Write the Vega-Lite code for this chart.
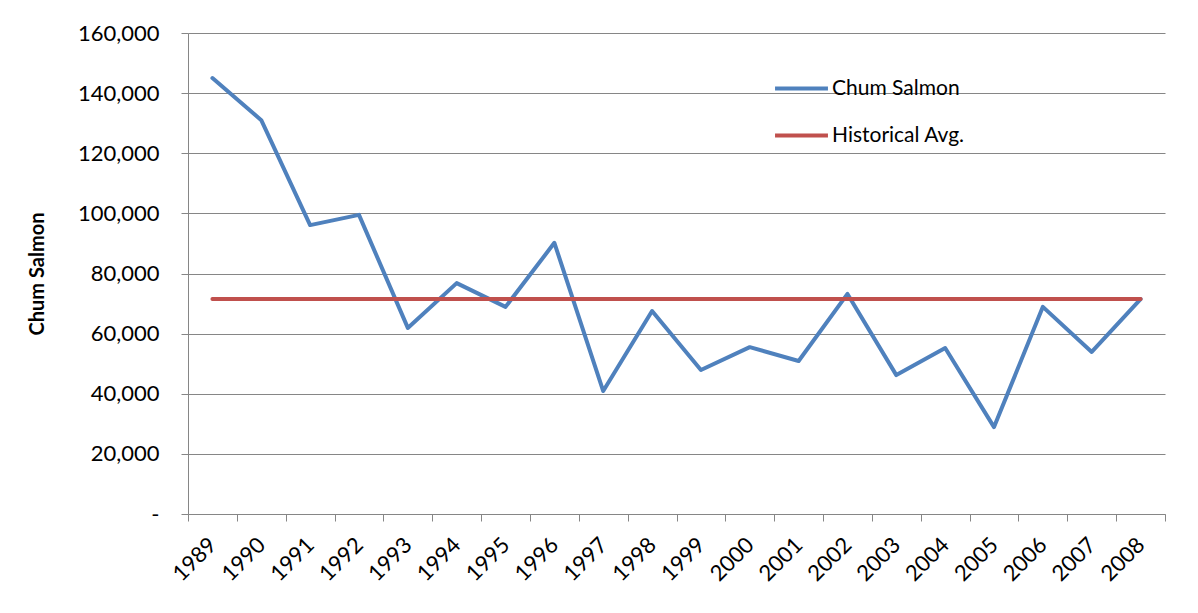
{
  "$schema": "https://vega.github.io/schema/vega-lite/v6.json",
  "width": 977,
  "height": 481,
  "autosize": {"type": "none"},
  "padding": {"left": 188, "top": 33, "right": 33, "bottom": 99},
  "background": "white",
  "data": {
    "values": [
      {"year": "1989", "chum": 145000, "avg": 71500},
      {"year": "1990", "chum": 131000, "avg": 71500},
      {"year": "1991", "chum": 96100, "avg": 71500},
      {"year": "1992", "chum": 99500, "avg": 71500},
      {"year": "1993", "chum": 61900, "avg": 71500},
      {"year": "1994", "chum": 76800, "avg": 71500},
      {"year": "1995", "chum": 68900, "avg": 71500},
      {"year": "1996", "chum": 90200, "avg": 71500},
      {"year": "1997", "chum": 40900, "avg": 71500},
      {"year": "1998", "chum": 67500, "avg": 71500},
      {"year": "1999", "chum": 47900, "avg": 71500},
      {"year": "2000", "chum": 55500, "avg": 71500},
      {"year": "2001", "chum": 50900, "avg": 71500},
      {"year": "2002", "chum": 73200, "avg": 71500},
      {"year": "2003", "chum": 46200, "avg": 71500},
      {"year": "2004", "chum": 55200, "avg": 71500},
      {"year": "2005", "chum": 28900, "avg": 71500},
      {"year": "2006", "chum": 68900, "avg": 71500},
      {"year": "2007", "chum": 53900, "avg": 71500},
      {"year": "2008", "chum": 71500, "avg": 71500}
    ]
  },
  "encoding": {
    "x": {
      "field": "year",
      "type": "ordinal",
      "scale": {"type": "band", "paddingInner": 0, "paddingOuter": 0},
      "axis": {
        "title": null,
        "labelAngle": -45,
        "labelAlign": "right",
        "labelBaseline": "middle",
        "labelPadding": 20,
        "labelFontSize": 22,
        "labelFont": "Lato",
        "labelColor": "#000000",
        "tickBand": "extent",
        "tickSize": 7,
        "tickColor": "#868686",
        "domainColor": "#868686",
        "grid": false
      }
    }
  },
  "layer": [
    {
      "mark": {"type": "line", "strokeWidth": 4, "strokeCap": "round", "strokeJoin": "round"},
      "encoding": {
        "y": {
          "field": "chum",
          "type": "quantitative",
          "scale": {"domain": [0, 160000]},
          "axis": {
            "title": "Chum Salmon",
            "titleFont": "Lato",
            "titleFontSize": 20,
            "titleFontWeight": "bold",
            "titleColor": "#000000",
            "titlePadding": 30,
            "values": [0, 20000, 40000, 60000, 80000, 100000, 120000, 140000, 160000],
            "labelExpr": "datum.value == 0 ? '-' : format(datum.value, ',')",
            "labelFont": "Lato",
            "labelFontSize": 22,
            "labelColor": "#000000",
            "labelPadding": 22,
            "tickSize": 7,
            "tickColor": "#868686",
            "domainColor": "#868686",
            "gridColor": "#868686",
            "gridWidth": 1
          }
        },
        "color": {"datum": "Chum Salmon"}
      }
    },
    {
      "mark": {"type": "line", "strokeWidth": 4, "strokeCap": "round"},
      "encoding": {
        "y": {"field": "avg", "type": "quantitative"},
        "color": {"datum": "Historical Avg."}
      }
    }
  ],
  "resolve": {"scale": {"color": "shared"}},
  "config": {
    "view": {"stroke": null},
    "range": {"category": ["#4F81BD", "#C0504D"]},
    "legend": {
      "orient": "none",
      "legendX": 585,
      "legendY": 27,
      "title": null,
      "symbolType": "stroke",
      "symbolSize": 2800,
      "symbolStrokeWidth": 4,
      "labelFont": "Lato",
      "labelFontSize": 21,
      "labelColor": "#000000",
      "labelOffset": 2,
      "rowPadding": 8,
      "symbolOffset": 0
    }
  }
}
